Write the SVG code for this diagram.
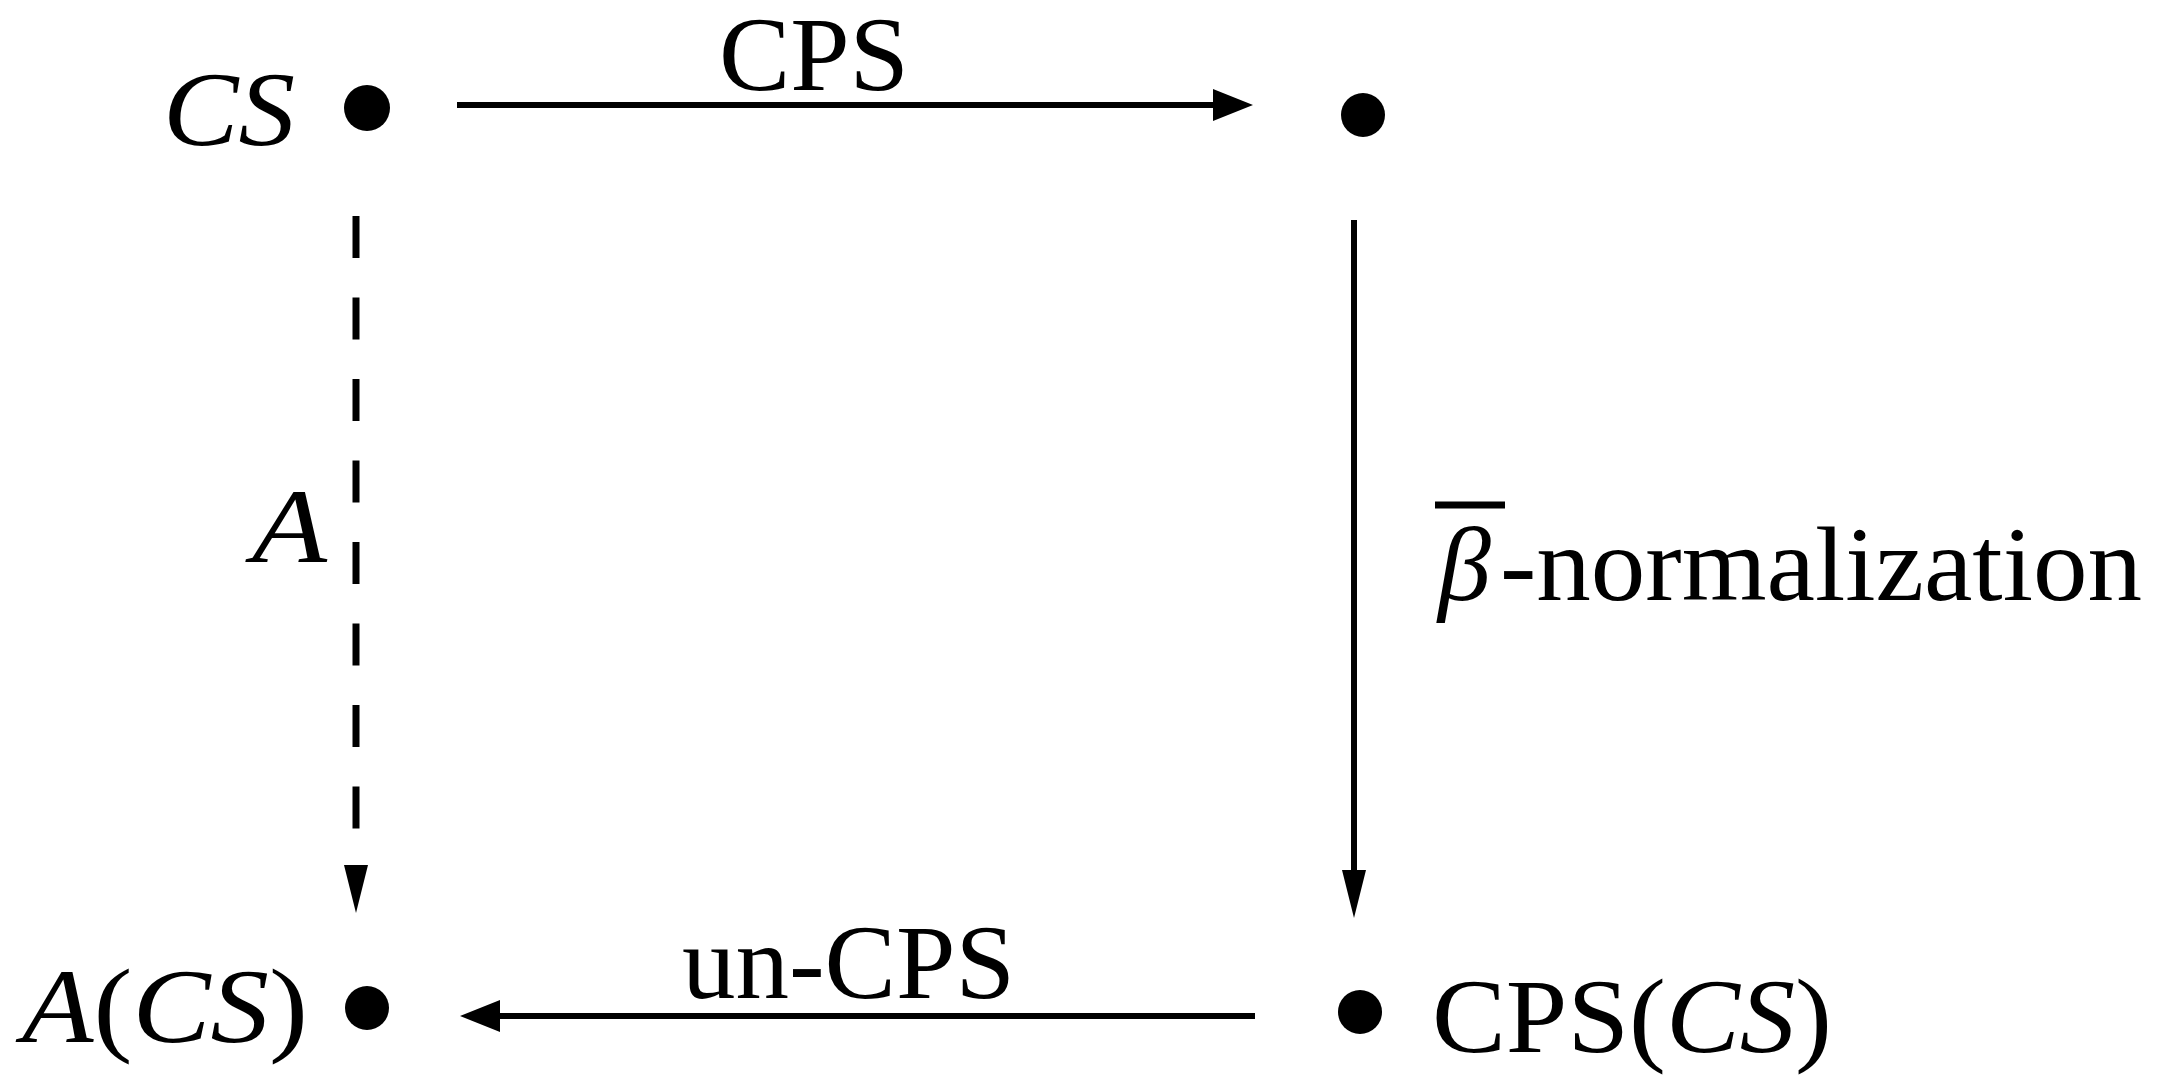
<svg xmlns="http://www.w3.org/2000/svg" width="2160" height="1080" viewBox="0 0 2160 1080">
  <style>
    .lbl { font-family: "Liberation Serif", "Times New Roman", serif; font-size: 106px; fill: #000; }
    .it { font-style: italic; }
    .dot { fill: #000; }
    .edge { stroke: #000; stroke-width: 6; fill: none; }
    .dash { stroke-dasharray: 42 39.5; stroke-width: 7; }
  </style>
  <defs>
    <marker id="hArrow" markerUnits="userSpaceOnUse" markerWidth="44" markerHeight="36" refX="0" refY="16" orient="auto" overflow="visible">
      <path d="M0,0 L40,16 L0,32 Z" fill="#000"/>
    </marker>
    <marker id="vArrow" markerUnits="userSpaceOnUse" markerWidth="50" markerHeight="26" refX="0" refY="12" orient="auto" overflow="visible">
      <path d="M0,0 L48,12 L0,24 Z" fill="#000"/>
    </marker>
  </defs>
  <rect width="2160" height="1080" fill="#fff"/>

  <g id="connectors">
    <line id="e-cps" class="edge" x1="457" y1="105" x2="1213" y2="105" marker-end="url(#hArrow)"/>
    <text class="lbl" x="719" y="90" font-size="86" textLength="190" lengthAdjust="spacingAndGlyphs">CPS</text>

    <line id="e-beta" class="edge" x1="1354" y1="220" x2="1354" y2="870" stroke-width="5" marker-end="url(#vArrow)"/>
    <line x1="1435" y1="505" x2="1505" y2="505" stroke="#000" stroke-width="7"/>
    <text class="lbl" x="1438" y="600"><tspan class="it">β</tspan></text>
    <text class="lbl" x="1500" y="600" textLength="642" lengthAdjust="spacingAndGlyphs">-normalization</text>

    <line id="e-uncps" class="edge" x1="1255" y1="1016" x2="500" y2="1016" marker-end="url(#hArrow)"/>
    <text class="lbl" x="682" y="998" textLength="333" lengthAdjust="spacingAndGlyphs">un-CPS</text>

    <line id="e-a" class="edge dash" x1="356" y1="216" x2="356" y2="865" marker-end="url(#vArrow)"/>
    <text class="lbl it" x="252" y="562" textLength="75" lengthAdjust="spacingAndGlyphs">A</text>
  </g>

  <g id="node-cs">
    <circle class="dot" cx="367" cy="108" r="23"/>
    <text class="lbl it" x="163" y="145" textLength="132" lengthAdjust="spacingAndGlyphs">CS</text>
  </g>

  <g id="node-tr">
    <circle class="dot" cx="1363" cy="115" r="22"/>
  </g>

  <g id="node-acs">
    <circle class="dot" cx="367" cy="1008" r="22"/>
    <text class="lbl" x="22" y="1042" textLength="286" lengthAdjust="spacingAndGlyphs"><tspan class="it">A</tspan>(<tspan class="it">CS</tspan>)</text>
  </g>

  <g id="node-cpscs">
    <circle class="dot" cx="1360" cy="1012" r="22"/>
    <text class="lbl" x="1432" y="1052" textLength="400" lengthAdjust="spacingAndGlyphs">CPS(<tspan class="it">CS</tspan>)</text>
  </g>
</svg>
